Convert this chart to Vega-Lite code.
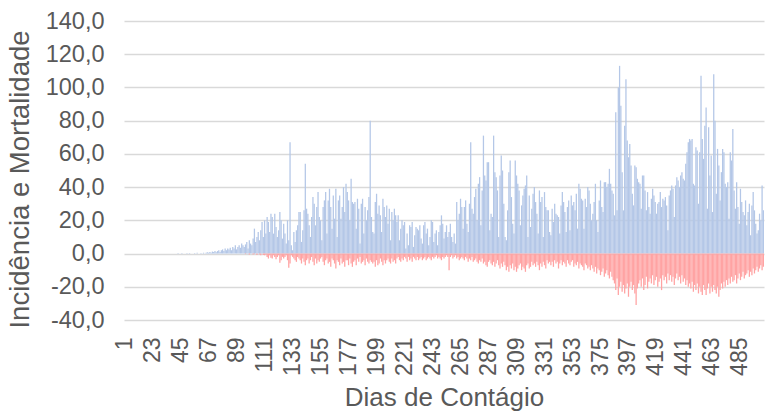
{
"$schema": "https://vega.github.io/schema/vega-lite/v6.json",
"width": 640, "height": 299,
"autosize": "none",
"padding": {"left": 124, "top": 21, "right": 1, "bottom": 95},
"background": "white",
"config": {"view": {"stroke": null}, "font": "Liberation Sans"},
"data": {"values": [
{"d":1,"i":0,"m":0},{"d":2,"i":0,"m":0},{"d":3,"i":0,"m":0},{"d":4,"i":0,"m":0},{"d":5,"i":0,"m":0},{"d":6,"i":0,"m":0},{"d":7,"i":0,"m":0},{"d":8,"i":0,"m":0},{"d":9,"i":0,"m":0},{"d":10,"i":0,"m":0},
{"d":11,"i":0,"m":0},{"d":12,"i":0,"m":0},{"d":13,"i":0,"m":0},{"d":14,"i":0,"m":0},{"d":15,"i":0,"m":0},{"d":16,"i":0,"m":0},{"d":17,"i":0,"m":0},{"d":18,"i":0,"m":0},{"d":19,"i":0,"m":0},{"d":20,"i":0,"m":0},
{"d":21,"i":0,"m":0},{"d":22,"i":0,"m":0},{"d":23,"i":0,"m":0},{"d":24,"i":0,"m":0},{"d":25,"i":0,"m":0},{"d":26,"i":0,"m":0},{"d":27,"i":0,"m":0},{"d":28,"i":0,"m":0},{"d":29,"i":0,"m":0},{"d":30,"i":0,"m":0},
{"d":31,"i":0,"m":0},{"d":32,"i":0,"m":0},{"d":33,"i":0,"m":0},{"d":34,"i":0,"m":0},{"d":35,"i":0,"m":0},{"d":36,"i":0,"m":0},{"d":37,"i":0,"m":0},{"d":38,"i":0,"m":0},{"d":39,"i":0,"m":0},{"d":40,"i":0,"m":0},
{"d":41,"i":0,"m":0},{"d":42,"i":0,"m":0},{"d":43,"i":0.3,"m":0},{"d":44,"i":0,"m":0},{"d":45,"i":0,"m":0},{"d":46,"i":0.3,"m":0},{"d":47,"i":0,"m":0},{"d":48,"i":0,"m":0},{"d":49,"i":0,"m":0},{"d":50,"i":0.3,"m":0},
{"d":51,"i":0,"m":0},{"d":52,"i":0.3,"m":0},{"d":53,"i":0,"m":0},{"d":54,"i":0,"m":0},{"d":55,"i":0,"m":0},{"d":56,"i":0.3,"m":0},{"d":57,"i":0,"m":0},{"d":58,"i":0.5,"m":0},{"d":59,"i":0,"m":0},{"d":60,"i":0,"m":0},
{"d":61,"i":0.3,"m":0},{"d":62,"i":0,"m":0},{"d":63,"i":0.5,"m":0},{"d":64,"i":0,"m":0},{"d":65,"i":0.5,"m":0},{"d":66,"i":0.8,"m":0},{"d":67,"i":0.5,"m":0},{"d":68,"i":1,"m":0},{"d":69,"i":0.5,"m":0},{"d":70,"i":1.2,"m":0},
{"d":71,"i":1,"m":0},{"d":72,"i":1.5,"m":0},{"d":73,"i":0.8,"m":0},{"d":74,"i":1.5,"m":0},{"d":75,"i":2,"m":0},{"d":76,"i":1,"m":0},{"d":77,"i":2,"m":0},{"d":78,"i":2.5,"m":0},{"d":79,"i":1.5,"m":0},{"d":80,"i":3,"m":0},
{"d":81,"i":2,"m":0},{"d":82,"i":3,"m":0},{"d":83,"i":2.5,"m":0},{"d":84,"i":3.5,"m":0},{"d":85,"i":2,"m":0},{"d":86,"i":4,"m":0},{"d":87,"i":3,"m":0},{"d":88,"i":5,"m":0},{"d":89,"i":2.5,"m":0},{"d":90,"i":4,"m":0},
{"d":91,"i":5,"m":0},{"d":92,"i":3.5,"m":0},{"d":93,"i":6,"m":0},{"d":94,"i":5,"m":0},{"d":95,"i":4,"m":0},{"d":96,"i":5.5,"m":-0.3},{"d":97,"i":7,"m":0},{"d":98,"i":3,"m":0},{"d":99,"i":8,"m":-0.5},{"d":100,"i":6,"m":0},
{"d":101,"i":5,"m":0},{"d":102,"i":9,"m":-0.5},{"d":103,"i":15,"m":-0.3},{"d":104,"i":7,"m":0},{"d":105,"i":10,"m":-0.8},{"d":106,"i":13,"m":0},{"d":107,"i":8,"m":-0.5},{"d":108,"i":14,"m":-1},{"d":109,"i":19,"m":0},{"d":110,"i":10,"m":-0.8},
{"d":111,"i":20,"m":-1},{"d":112,"i":12,"m":-0.5},{"d":113,"i":22,"m":-2},{"d":114,"i":19,"m":-3},{"d":115,"i":13,"m":-1},{"d":116,"i":24,"m":-2.5},{"d":117,"i":22,"m":-3},{"d":118,"i":12,"m":-1},{"d":119,"i":24,"m":-2},{"d":120,"i":16,"m":-3.5},
{"d":121,"i":10,"m":-2},{"d":122,"i":14,"m":-1},{"d":123,"i":25,"m":-5.6},{"d":124,"i":20,"m":-4},{"d":125,"i":9,"m":-2},{"d":126,"i":18,"m":-3},{"d":127,"i":12,"m":-2},{"d":128,"i":6,"m":-1},{"d":129,"i":20,"m":-4},{"d":130,"i":8,"m":-8.5},
{"d":131,"i":67,"m":-6},{"d":132,"i":5,"m":-1},{"d":133,"i":2,"m":-2},{"d":134,"i":13,"m":-3},{"d":135,"i":7,"m":-4},{"d":136,"i":14,"m":-5},{"d":137,"i":17,"m":-2},{"d":138,"i":25,"m":-3},{"d":139,"i":25,"m":-4},{"d":140,"i":7,"m":-6},
{"d":141,"i":14,"m":-3},{"d":142,"i":26,"m":-5},{"d":143,"i":54,"m":-7},{"d":144,"i":27,"m":-4},{"d":145,"i":24,"m":-3},{"d":146,"i":17,"m":-6},{"d":147,"i":10,"m":-4},{"d":148,"i":22,"m":-2},{"d":149,"i":34,"m":-5},{"d":150,"i":30,"m":-7},
{"d":151,"i":17,"m":-3},{"d":152,"i":28,"m":-6},{"d":153,"i":37,"m":-4},{"d":154,"i":22,"m":-5},{"d":155,"i":20,"m":-3},{"d":156,"i":8,"m":-2},{"d":157,"i":28,"m":-5},{"d":158,"i":32,"m":-7},{"d":159,"i":37,"m":-4},{"d":160,"i":12,"m":-3},
{"d":161,"i":32,"m":-6},{"d":162,"i":39,"m":-5},{"d":163,"i":28,"m":-8},{"d":164,"i":15,"m":-3},{"d":165,"i":35,"m":-4},{"d":166,"i":21,"m":-6},{"d":167,"i":39,"m":-9},{"d":168,"i":10,"m":-4},{"d":169,"i":32,"m":-5},{"d":170,"i":35,"m":-7},
{"d":171,"i":21,"m":-3},{"d":172,"i":28,"m":-6},{"d":173,"i":40,"m":-5},{"d":174,"i":25,"m":-8},{"d":175,"i":42,"m":-4},{"d":176,"i":37,"m":-4},{"d":177,"i":32,"m":-7},{"d":178,"i":20,"m":-3},{"d":179,"i":45,"m":-6},{"d":180,"i":31,"m":-8},
{"d":181,"i":30,"m":-5},{"d":182,"i":31,"m":-4},{"d":183,"i":15,"m":-7},{"d":184,"i":33,"m":-3},{"d":185,"i":27,"m":-5},{"d":186,"i":6,"m":-2},{"d":187,"i":30,"m":-6},{"d":188,"i":33,"m":-5},{"d":189,"i":12,"m":-4},{"d":190,"i":28,"m":-7},
{"d":191,"i":20,"m":-3},{"d":192,"i":26,"m":-5},{"d":193,"i":34,"m":-6},{"d":194,"i":80,"m":-4},{"d":195,"i":22,"m":-5},{"d":196,"i":13,"m":-6},{"d":197,"i":12,"m":-5},{"d":198,"i":31,"m":-8},{"d":199,"i":36,"m":-4},{"d":200,"i":24,"m":-7},
{"d":201,"i":29,"m":-6},{"d":202,"i":23,"m":-3},{"d":203,"i":13,"m":-5},{"d":204,"i":33,"m":-7},{"d":205,"i":28,"m":-4},{"d":206,"i":22,"m":-6},{"d":207,"i":29,"m":-4},{"d":208,"i":18,"m":-3},{"d":209,"i":27,"m":-5},{"d":210,"i":8,"m":-6},
{"d":211,"i":25,"m":-3},{"d":212,"i":20,"m":-5},{"d":213,"i":27,"m":-4},{"d":214,"i":23,"m":-6},{"d":215,"i":19,"m":-3},{"d":216,"i":23,"m":-2},{"d":217,"i":8,"m":-4},{"d":218,"i":15,"m":-5},{"d":219,"i":20,"m":-3},{"d":220,"i":17,"m":-4},
{"d":221,"i":19,"m":-2},{"d":222,"i":3,"m":-3},{"d":223,"i":12,"m":-5},{"d":224,"i":5,"m":-2},{"d":225,"i":17,"m":-4},{"d":226,"i":16,"m":-3},{"d":227,"i":19,"m":-5},{"d":228,"i":4,"m":-2},{"d":229,"i":11,"m":-3},{"d":230,"i":16,"m":-4},
{"d":231,"i":15,"m":-2},{"d":232,"i":14,"m":-4},{"d":233,"i":17,"m":-3},{"d":234,"i":9,"m":-2},{"d":235,"i":6,"m":-4},{"d":236,"i":17,"m":-3},{"d":237,"i":19,"m":-2},{"d":238,"i":12,"m":-4},{"d":239,"i":15,"m":-3},{"d":240,"i":5,"m":-2},
{"d":241,"i":10,"m":-3},{"d":242,"i":20,"m":-4},{"d":243,"i":19,"m":-2},{"d":244,"i":7,"m":-3},{"d":245,"i":12,"m":-2},{"d":246,"i":14,"m":-1},{"d":247,"i":5,"m":-3},{"d":248,"i":13,"m":-2},{"d":249,"i":17,"m":-3},{"d":250,"i":23,"m":-4},
{"d":251,"i":18,"m":-2},{"d":252,"i":9,"m":-3},{"d":253,"i":13,"m":-2},{"d":254,"i":17,"m":-1},{"d":255,"i":10,"m":-2},{"d":256,"i":13,"m":-10},{"d":257,"i":18,"m":-2},{"d":258,"i":10,"m":-1},{"d":259,"i":7,"m":-3},{"d":260,"i":12,"m":-2},
{"d":261,"i":6,"m":-1},{"d":262,"i":31,"m":-3},{"d":263,"i":20,"m":-2},{"d":264,"i":24,"m":-4},{"d":265,"i":33,"m":-3},{"d":266,"i":28,"m":-2},{"d":267,"i":15,"m":-3},{"d":268,"i":28,"m":-4},{"d":269,"i":32,"m":-2},{"d":270,"i":18,"m":-3},
{"d":271,"i":13,"m":-5},{"d":272,"i":30,"m":-3},{"d":273,"i":67,"m":-4},{"d":274,"i":27,"m":-2},{"d":275,"i":24,"m":-5},{"d":276,"i":34,"m":-4},{"d":277,"i":39,"m":-3},{"d":278,"i":20,"m":-5},{"d":279,"i":42,"m":-6},{"d":280,"i":46,"m":-4},
{"d":281,"i":17,"m":-5},{"d":282,"i":38,"m":-3},{"d":283,"i":71,"m":-6},{"d":284,"i":47,"m":-5},{"d":285,"i":44,"m":-7},{"d":286,"i":55,"m":-8},{"d":287,"i":55,"m":-5},{"d":288,"i":14,"m":-4},{"d":289,"i":24,"m":-6},{"d":290,"i":22,"m":-7},
{"d":291,"i":71,"m":-5},{"d":292,"i":49,"m":-8},{"d":293,"i":46,"m":-6},{"d":294,"i":38,"m":-4},{"d":295,"i":10,"m":-7},{"d":296,"i":47,"m":-9},{"d":297,"i":59,"m":-6},{"d":298,"i":50,"m":-8},{"d":299,"i":30,"m":-5},{"d":300,"i":10,"m":-7},
{"d":301,"i":8,"m":-10},{"d":302,"i":26,"m":-8},{"d":303,"i":49,"m":-11},{"d":304,"i":56,"m":-7},{"d":305,"i":34,"m":-9},{"d":306,"i":18,"m":-6},{"d":307,"i":12,"m":-10},{"d":308,"i":56,"m":-8},{"d":309,"i":47,"m":-11},{"d":310,"i":42,"m":-9},
{"d":311,"i":38,"m":-7},{"d":312,"i":17,"m":-6},{"d":313,"i":29,"m":-10},{"d":314,"i":35,"m":-8},{"d":315,"i":39,"m":-9},{"d":316,"i":41,"m":-11},{"d":317,"i":47,"m":-7},{"d":318,"i":10,"m":-6},{"d":319,"i":35,"m":-9},{"d":320,"i":16,"m":-8},
{"d":321,"i":27,"m":-5},{"d":322,"i":36,"m":-7},{"d":323,"i":40,"m":-6},{"d":324,"i":31,"m":-8},{"d":325,"i":24,"m":-5},{"d":326,"i":12,"m":-7},{"d":327,"i":38,"m":-10},{"d":328,"i":31,"m":-6},{"d":329,"i":34,"m":-8},{"d":330,"i":10,"m":-5},
{"d":331,"i":37,"m":-7},{"d":332,"i":28,"m":-9},{"d":333,"i":26,"m":-4},{"d":334,"i":26,"m":-6},{"d":335,"i":13,"m":-5},{"d":336,"i":11,"m":-7},{"d":337,"i":27,"m":-5},{"d":338,"i":19,"m":-8},{"d":339,"i":30,"m":-4},{"d":340,"i":24,"m":-6},
{"d":341,"i":23,"m":-5},{"d":342,"i":22,"m":-9},{"d":343,"i":12,"m":-6},{"d":344,"i":29,"m":-4},{"d":345,"i":37,"m":-7},{"d":346,"i":31,"m":-5},{"d":347,"i":25,"m":-6},{"d":348,"i":13,"m":-8},{"d":349,"i":28,"m":-4},{"d":350,"i":32,"m":-6},
{"d":351,"i":14,"m":-7},{"d":352,"i":35,"m":-5},{"d":353,"i":29,"m":-4},{"d":354,"i":31,"m":-8},{"d":355,"i":26,"m":-6},{"d":356,"i":36,"m":-7},{"d":357,"i":15,"m":-5},{"d":358,"i":42,"m":-9},{"d":359,"i":39,"m":-6},{"d":360,"i":33,"m":-7},
{"d":361,"i":32,"m":-8},{"d":362,"i":15,"m":-10},{"d":363,"i":33,"m":-6},{"d":364,"i":28,"m":-7},{"d":365,"i":40,"m":-9},{"d":366,"i":38,"m":-8},{"d":367,"i":30,"m":-10},{"d":368,"i":20,"m":-7},{"d":369,"i":24,"m":-9},{"d":370,"i":31,"m":-11},
{"d":371,"i":42,"m":-8},{"d":372,"i":20,"m":-12},{"d":373,"i":13,"m":-9},{"d":374,"i":32,"m":-10},{"d":375,"i":44,"m":-13},{"d":376,"i":28,"m":-11},{"d":377,"i":25,"m":-9},{"d":378,"i":43,"m":-14},{"d":379,"i":43,"m":-12},{"d":380,"i":40,"m":-10},
{"d":381,"i":42,"m":-13},{"d":382,"i":51,"m":-15},{"d":383,"i":42,"m":-11},{"d":384,"i":38,"m":-14},{"d":385,"i":36,"m":-16},{"d":386,"i":23,"m":-18},{"d":387,"i":85,"m":-22},{"d":388,"i":26,"m":-15},{"d":389,"i":100,"m":-25},{"d":390,"i":113,"m":-20},
{"d":391,"i":89,"m":-17},{"d":392,"i":49,"m":-23},{"d":393,"i":26,"m":-19},{"d":394,"i":77,"m":-24},{"d":395,"i":105,"m":-21},{"d":396,"i":68,"m":-18},{"d":397,"i":58,"m":-26},{"d":398,"i":66,"m":-20},{"d":399,"i":53,"m":-17},{"d":400,"i":36,"m":-22},
{"d":401,"i":29,"m":-19},{"d":402,"i":53,"m":-24},{"d":403,"i":52,"m":-31},{"d":404,"i":45,"m":-21},{"d":405,"i":43,"m":-18},{"d":406,"i":42,"m":-16},{"d":407,"i":27,"m":-20},{"d":408,"i":47,"m":-15},{"d":409,"i":47,"m":-22},{"d":410,"i":38,"m":-19},
{"d":411,"i":26,"m":-14},{"d":412,"i":37,"m":-21},{"d":413,"i":28,"m":-17},{"d":414,"i":24,"m":-15},{"d":415,"i":33,"m":-18},{"d":416,"i":39,"m":-13},{"d":417,"i":35,"m":-19},{"d":418,"i":31,"m":-16},{"d":419,"i":24,"m":-14},{"d":420,"i":30,"m":-20},
{"d":421,"i":31,"m":-17},{"d":422,"i":37,"m":-15},{"d":423,"i":28,"m":-22},{"d":424,"i":33,"m":-13},{"d":425,"i":32,"m":-16},{"d":426,"i":34,"m":-14},{"d":427,"i":29,"m":-18},{"d":428,"i":14,"m":-12},{"d":429,"i":35,"m":-16},{"d":430,"i":38,"m":-13},
{"d":431,"i":41,"m":-17},{"d":432,"i":39,"m":-14},{"d":433,"i":22,"m":-19},{"d":434,"i":41,"m":-15},{"d":435,"i":46,"m":-12},{"d":436,"i":44,"m":-16},{"d":437,"i":40,"m":-14},{"d":438,"i":47,"m":-18},{"d":439,"i":49,"m":-13},{"d":440,"i":45,"m":-17},
{"d":441,"i":44,"m":-15},{"d":442,"i":54,"m":-19},{"d":443,"i":61,"m":-16},{"d":444,"i":67,"m":-20},{"d":445,"i":69,"m":-18},{"d":446,"i":68,"m":-21},{"d":447,"i":69,"m":-17},{"d":448,"i":42,"m":-23},{"d":449,"i":41,"m":-19},{"d":450,"i":64,"m":-22},
{"d":451,"i":62,"m":-18},{"d":452,"i":30,"m":-24},{"d":453,"i":61,"m":-20},{"d":454,"i":107,"m":-23},{"d":455,"i":69,"m":-25},{"d":456,"i":57,"m":-19},{"d":457,"i":77,"m":-22},{"d":458,"i":88,"m":-25},{"d":459,"i":27,"m":-21},{"d":460,"i":76,"m":-18},
{"d":461,"i":47,"m":-24},{"d":462,"i":59,"m":-20},{"d":463,"i":25,"m":-23},{"d":464,"i":108,"m":-19},{"d":465,"i":80,"m":-22},{"d":466,"i":36,"m":-24},{"d":467,"i":63,"m":-20},{"d":468,"i":53,"m":-26},{"d":469,"i":32,"m":-22},{"d":470,"i":49,"m":-18},
{"d":471,"i":63,"m":-21},{"d":472,"i":61,"m":-17},{"d":473,"i":42,"m":-20},{"d":474,"i":40,"m":-16},{"d":475,"i":43,"m":-19},{"d":476,"i":21,"m":-15},{"d":477,"i":61,"m":-18},{"d":478,"i":56,"m":-14},{"d":479,"i":75,"m":-17},{"d":480,"i":38,"m":-16},
{"d":481,"i":27,"m":-13},{"d":482,"i":43,"m":-18},{"d":483,"i":28,"m":-15},{"d":484,"i":18,"m":-12},{"d":485,"i":39,"m":-16},{"d":486,"i":31,"m":-14},{"d":487,"i":25,"m":-11},{"d":488,"i":23,"m":-15},{"d":489,"i":32,"m":-13},{"d":490,"i":17,"m":-12},
{"d":491,"i":25,"m":-10},{"d":492,"i":30,"m":-14},{"d":493,"i":11,"m":-11},{"d":494,"i":29,"m":-13},{"d":495,"i":37,"m":-9},{"d":496,"i":26,"m":-12},{"d":497,"i":18,"m":-10},{"d":498,"i":12,"m":-8},{"d":499,"i":14,"m":-11},{"d":500,"i":24,"m":-9},
{"d":501,"i":20,"m":-7},{"d":502,"i":41,"m":-10},{"d":503,"i":26,"m":-8}
]},
"transform": [{"fold": ["i", "m"], "as": ["serie", "valor"]}],
"mark": {"type": "bar"},
"encoding": {
  "x": {"field": "d", "type": "ordinal", "scale": {"paddingInner": 0, "paddingOuter": 0},
    "axis": {"values": [1,23,45,67,89,111,133,155,177,199,221,243,265,287,309,331,353,375,397,419,441,463,485],
      "labelAngle": -90, "ticks": false, "domain": false, "grid": false, "labelOverlap": false, "labelBound": false,
      "labelFontSize": 23, "labelColor": "#595959", "labelPadding": 17,
      "title": "Dias de Contágio", "titleFontSize": 26, "titleFontWeight": "normal", "titleColor": "#595959", "titlePadding": 9}},
  "y": {"field": "valor", "type": "quantitative", "stack": null,
     "scale": {"domain": [-40, 140], "nice": false, "zero": true},
     "axis": {"values": [-40,-20,0,20,40,60,80,100,120,140],
       "labelExpr": "replace(replace(format(datum.value, '.1f'), '.', ','), '\u2212', '-')",
       "grid": true, "gridColor": "#d9d9d9", "gridWidth": 1.3,
       "domain": false, "ticks": false, "labelPadding": 20, "labelOverlap": false, "labelBound": false,
       "labelFontSize": 23.5, "labelColor": "#595959",
       "title": "Incidência e Mortalidade", "titleFontSize": 27.5, "titleFontWeight": "normal", "titleColor": "#595959", "titlePadding": 11, "titleY": 158}},
  "color": {"field": "serie", "type": "nominal", "legend": null,
     "scale": {"domain": ["i", "m"], "range": ["#b4c7e7", "#ffa3a3"]}}
}
}
